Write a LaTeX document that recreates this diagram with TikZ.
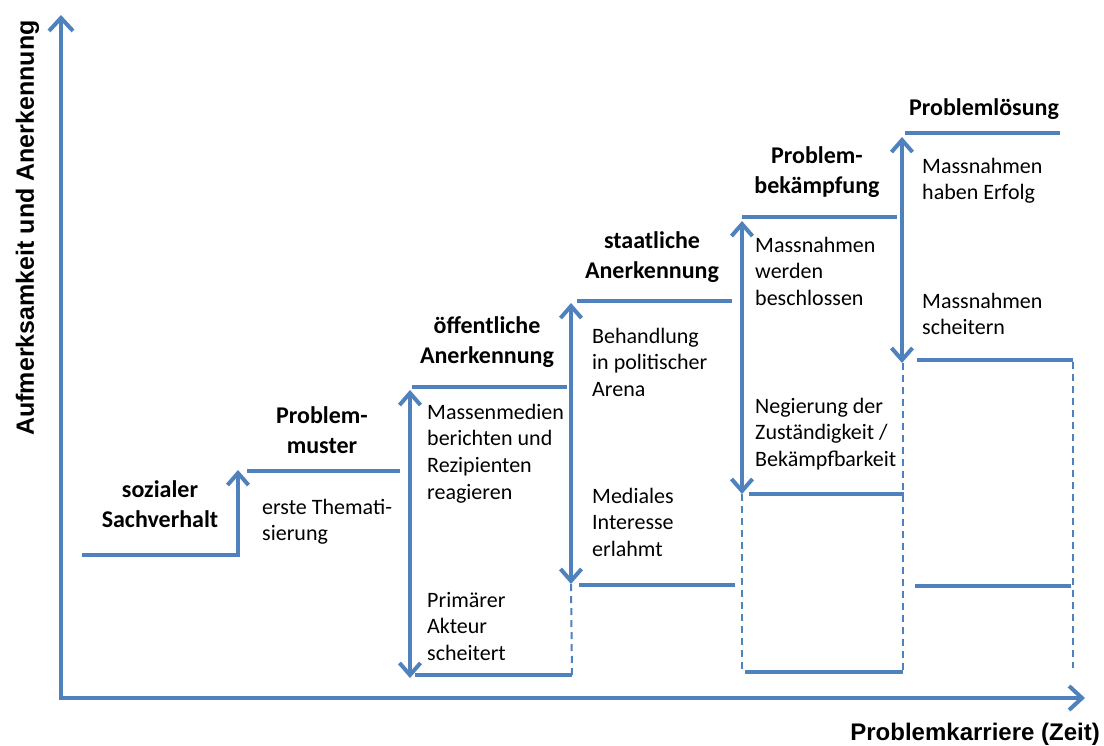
\documentclass[tikz,border=0pt]{standalone}
\usepackage{fontspec}
\setmainfont{Carlito}
\newfontfamily\axisfont{Liberation Sans}
\usetikzlibrary{arrows.meta}
\definecolor{stepblue}{RGB}{79,129,189}
% stacked lines whose reference point is the baseline of the first line
\newcommand{\stacklines}[2]{\begin{tabular}[t]{@{}#1@{}}#2\end{tabular}}

\begin{document}
\begin{tikzpicture}[x=1pt,y=-1pt,
  bar/.style={draw=stepblue, line width=4pt},
  guide/.style={draw=stepblue, line width=2pt, dash pattern=on 7pt off 5pt},
  barb/.tip={Straight Barb[length=12pt,width=21pt]},
  axisbarb/.tip={Straight Barb[length=13pt,width=24pt]},
  uparrow/.style={bar,-barb},
  twoway/.style={bar,barb-barb},
  stagetitle/.style={inner sep=0pt, anchor=base, font=\bfseries\fontsize{24}{30}\selectfont},
  note/.style={inner sep=0pt, anchor=base west, font=\fontsize{22}{26.7}\selectfont},
  axislabel/.style={inner sep=0pt, anchor=base, font=\axisfont\bfseries\fontsize{24}{29}\selectfont}]

\useasboundingbox (0,0) rectangle (1104,745);

% axes
\coordinate (ytop) at (61,15);
\coordinate (origin) at (61,698);
\coordinate (xend) at (1085,698);
\draw[bar,axisbarb-axisbarb] (ytop) -- (origin) -- (xend);

% stage 1 -> 2
\coordinate (s1a) at (82,555);
\coordinate (s1b) at (238,555);
\coordinate (s1up) at (238,470);
\draw[uparrow] (s1a) -- (s1b) -- (s1up);
\coordinate (s2a) at (247,471);
\coordinate (s2b) at (400,471);
\draw[bar] (s2a) -- (s2b);

% stage 3
\coordinate (a3top) at (410,390);
\coordinate (a3bot) at (410,678);
\draw[twoway] (a3bot) -- (a3top);
\coordinate (s3a) at (412,387);
\coordinate (s3b) at (567,387);
\draw[bar] (s3a) -- (s3b);
\coordinate (f3a) at (415,675);
\coordinate (f3b) at (572,675);
\draw[bar] (f3a) -- (f3b);

% stage 4
\coordinate (a4top) at (571,303);
\coordinate (a4bot) at (571,584);
\draw[twoway] (a4bot) -- (a4top);
\coordinate (s4a) at (577,301);
\coordinate (s4b) at (732,301);
\draw[bar] (s4a) -- (s4b);
\coordinate (f4a) at (579,585);
\coordinate (f4b) at (735,585);
\draw[bar] (f4a) -- (f4b);
\coordinate (g4) at (572,675);
\draw[guide] (a4bot) -- (g4);

% stage 5
\coordinate (a5top) at (742,221);
\coordinate (a5bot) at (742,494);
\draw[twoway] (a5bot) -- (a5top);
\coordinate (s5a) at (742,217);
\coordinate (s5b) at (897,217);
\draw[bar] (s5a) -- (s5b);
\coordinate (m5a) at (749,494);
\coordinate (m5b) at (904,494);
\draw[bar] (m5a) -- (m5b);
\coordinate (f5a) at (745,672);
\coordinate (f5b) at (903,672);
\draw[bar] (f5a) -- (f5b);
\coordinate (g5) at (742,672);
\draw[guide] (a5bot) -- (g5);

% stage 6
\coordinate (a6top) at (902,137);
\coordinate (a6bot) at (902,363);
\draw[twoway] (a6bot) -- (a6top);
\coordinate (s6a) at (905,133);
\coordinate (s6b) at (1060,133);
\draw[bar] (s6a) -- (s6b);
\coordinate (m6a) at (917,360);
\coordinate (m6b) at (1073,360);
\draw[bar] (m6a) -- (m6b);
\coordinate (l6a) at (915,586);
\coordinate (l6b) at (1071,586);
\draw[bar] (l6a) -- (l6b);
\coordinate (g6a) at (903,363);
\coordinate (g6b) at (903,672);
\draw[guide] (g6a) -- (g6b);
\coordinate (g6c) at (1073,362);
\coordinate (g6d) at (1073,668);
\draw[guide] (g6c) -- (g6d);

% stage titles
\node[stagetitle] (t1) at (160,497) {\stacklines{c}{sozialer\\Sachverhalt}};
\node[stagetitle] (t2) at (322,423) {\stacklines{c}{Problem-\\muster}};
\node[stagetitle] (t3) at (487,333) {\stacklines{c}{öffentliche\\Anerkennung}};
\node[stagetitle] (t4) at (652,248) {\stacklines{c}{staatliche\\Anerkennung}};
\node[stagetitle] (t5) at (817,163) {\stacklines{c}{Problem-\\bekämpfung}};
\node[stagetitle] (t6) at (984,115) {Problemlösung};

% transition notes
\node[note] (n2) at (262,514) {\stacklines{l}{erste Themati-\\sierung}};
\node[note] (n3up) at (427,419) {\stacklines{l}{Massenmedien\\berichten und\\Rezipienten\\reagieren}};
\node[note] (n3dn) at (427,607) {\stacklines{l}{Primärer\\Akteur\\scheitert}};
\node[note] (n4up) at (592,343) {\stacklines{l}{Behandlung\\in politischer\\Arena}};
\node[note] (n4dn) at (592,503) {\stacklines{l}{Mediales\\Interesse\\erlahmt}};
\node[note] (n5up) at (755,252) {\stacklines{l}{Massnahmen\\werden\\beschlossen}};
\node[note] (n5dn) at (755,413) {\stacklines{l}{Negierung der\\Zuständigkeit /\\Bekämpfbarkeit}};
\node[note] (n6up) at (922,173) {\stacklines{l}{Massnahmen\\haben Erfolg}};
\node[note] (n6dn) at (922,308) {\stacklines{l}{Massnahmen\\scheitern}};

% axis labels
\node[axislabel, rotate=90, font=\axisfont\bfseries\fontsize{25}{30}\selectfont] (ylab) at (34,228) {Aufmerksamkeit und Anerkennung};
\node[axislabel, anchor=base east] (xlab) at (1100,740) {Problemkarriere (Zeit)};
\end{tikzpicture}
\end{document}
